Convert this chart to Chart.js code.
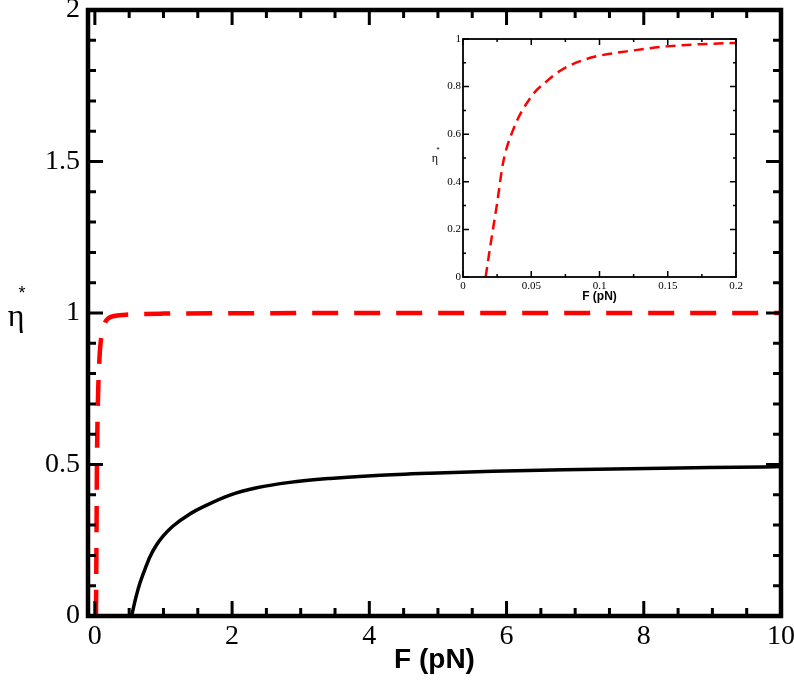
<!DOCTYPE html>
<html>
<head>
<meta charset="utf-8">
<script src="https://cdn.jsdelivr.net/npm/chart.js@4"></script>
<style>
html,body{margin:0;padding:0;background:#fff;}
#wrap{position:relative;width:794px;height:681px;background:#fff;}
#main{position:absolute;left:0;top:0;}
#inset{position:absolute;left:420px;top:25px;}
</style>
</head>
<body>
<div id="wrap">
<canvas id="main" width="794" height="681"></canvas>
<canvas id="inset" width="330" height="285"></canvas>
</div>
<script>
// ---- data ----
const redF   = [0.0166, 0.02, 0.025, 0.0293, 0.0367, 0.05, 0.061, 0.0733, 0.0905, 0.1, 0.12, 0.149, 0.198, 0.3, 0.5, 1, 2, 4, 6, 8, 10];
const redEta = [0, 0.13, 0.31, 0.478, 0.618, 0.758, 0.821, 0.874, 0.916, 0.93, 0.948, 0.969, 0.983, 0.991, 0.995, 0.998, 0.999, 1, 1, 1, 1];
const blackF   = [0.535, 0.6, 0.656, 0.75, 0.8, 0.9, 1.0, 1.14, 1.385, 1.63, 1.97, 2.36, 2.84, 3.43, 4.1, 4.88, 5.8, 6.83, 8.28, 9.74, 10];
const blackEta = [0, 0.063, 0.108, 0.166, 0.194, 0.235, 0.265, 0.297, 0.337, 0.366, 0.399, 0.423, 0.441, 0.454, 0.464, 0.4715, 0.478, 0.483, 0.488, 0.492, 0.493];

const mainXTicks = [0, 2, 4, 6, 8, 10];
const mainYTicks = [0, 0.5, 1, 1.5, 2];
const insetXTicks = [0, 0.05, 0.1, 0.15, 0.2];
const insetYTicks = [0, 0.2, 0.4, 0.6, 0.8, 1];

function toXY(xs, ys){ return xs.map((v,i)=>({x:v, y:ys[i]})); }
function range(a, b, s){ const out=[]; for(let v=a; v<=b+1e-9; v+=s) out.push(+v.toFixed(6)); return out; }
const fmt = v => String(+(+v).toFixed(4));

// frame + inside ticks plugin
const frameTicks = {
  id:'frameTicks',
  afterDatasetsDraw(chart, args, o){
    const {ctx, chartArea:{left,right,top,bottom}, scales:{x,y}} = chart;
    ctx.save();
    ctx.strokeStyle = '#000';
    ctx.lineCap = 'butt';
    const isMajor = (v, majors) => majors.some(m => Math.abs(m - v) < 1e-6);
    ctx.lineWidth = o.tickW;
    ctx.beginPath();
    o.xMinor.forEach(v => {
      const px = x.getPixelForValue(v);
      const len = isMajor(v, o.xMajor) ? o.majorLen : o.minorLen;
      ctx.moveTo(px, bottom); ctx.lineTo(px, bottom - len);
      ctx.moveTo(px, top); ctx.lineTo(px, top + len);
    });
    o.yMinor.forEach(v => {
      const py = y.getPixelForValue(v);
      const len = isMajor(v, o.yMajor) ? o.majorLen : o.minorLen;
      ctx.moveTo(left, py); ctx.lineTo(left + len, py);
      ctx.moveTo(right, py); ctx.lineTo(right - len, py);
    });
    ctx.stroke();
    ctx.lineWidth = o.frameW;
    ctx.strokeRect(left, top, right - left, bottom - top);
    // titles
    ctx.fillStyle = '#000';
    ctx.textAlign = 'center';
    ctx.textBaseline = 'middle';
    ctx.font = o.xTitleFont;
    ctx.fillText('F (pN)', (left + right) / 2, o.xTitleY);
    ctx.font = o.etaFont;
    ctx.fillText('η', o.etaX, o.etaY);
    ctx.font = o.starFont;
    ctx.fillText('*', o.etaX + o.starDX, o.etaY + o.starDY);
    ctx.restore();
  }
};

function fixTicks(list){ return function(scale){ scale.ticks = list.map(v => ({value:v})); }; }
function fitW(w){ return function(s){ s.width = w; s.paddingTop = 0; s.paddingBottom = 0; s.paddingLeft = 0; s.paddingRight = 0; }; }
function fitH(h){ return function(s){ s.height = h; s.paddingTop = 0; s.paddingBottom = 0; s.paddingLeft = 0; s.paddingRight = 0; }; }

new Chart(document.getElementById('main'), {
  type:'line',
  data:{
    datasets:[
      {data: toXY(blackF, blackEta), borderColor:'#000', borderWidth:3.5, pointRadius:0, cubicInterpolationMode:'monotone', fill:false},
      {data: toXY(redF, redEta), borderColor:'#ff0000', borderWidth:4.5, borderDash:[26,16], pointRadius:0, cubicInterpolationMode:'monotone', fill:false}
    ]
  },
  options:{
    responsive:false, animation:false, events:[],
    layout:{autoPadding:false, padding:{left:0, right:13, top:10, bottom:0}},
    plugins:{
      legend:{display:false}, tooltip:{enabled:false},
      frameTicks:{
        xMajor: mainXTicks, yMajor: mainYTicks,
        xMinor: range(0, 10, 0.5), yMinor: range(0, 2, 0.1),
        majorLen: 15, minorLen: 8, tickW: 3, frameW: 4.5,
        xTitleFont: 'bold 28px "Liberation Sans", Arial, sans-serif', xTitleY: 660,
        etaFont: '32px "Liberation Serif", serif', etaX: 16, etaY: 318,
        starFont: '18px "Liberation Sans", sans-serif', starDX: 6, starDY: -24
      }
    },
    scales:{
      x:{type:'linear', min:-0.1, max:10,
         afterBuildTicks: fixTicks(mainXTicks),
         afterFit: fitH(65),
         grid:{display:false, drawTicks:false}, border:{display:false},
         ticks:{color:'#000', font:{family:'"Liberation Serif", serif', size:28}, padding:4, maxRotation:0, autoSkip:false, callback: fmt}},
      y:{type:'linear', min:0, max:2,
         afterBuildTicks: fixTicks(mainYTicks),
         afterFit: fitW(88),
         grid:{display:false, drawTicks:false}, border:{display:false},
         ticks:{color:'#000', font:{family:'"Liberation Serif", serif', size:28}, padding:8, callback: fmt}}
    }
  },
  plugins:[frameTicks]
});

new Chart(document.getElementById('inset'), {
  type:'line',
  data:{
    datasets:[
      {data: toXY(redF, redEta), borderColor:'#ff0000', borderWidth:2.5, borderDash:[10,6], pointRadius:0, cubicInterpolationMode:'monotone', fill:false}
    ]
  },
  options:{
    responsive:false, animation:false, events:[],
    layout:{autoPadding:false, padding:{left:0, right:14, top:14, bottom:0}},
    plugins:{
      legend:{display:false}, tooltip:{enabled:false},
      frameTicks:{
        xMajor: insetXTicks, yMajor: insetYTicks,
        xMinor: range(0, 0.2, 0.025), yMinor: range(0, 1, 0.1),
        majorLen: 6, minorLen: 3, tickW: 1.5, frameW: 1.8,
        xTitleFont: 'bold 12px "Liberation Sans", Arial, sans-serif', xTitleY: 272,
        etaFont: '12px "Liberation Serif", serif', etaX: 15, etaY: 134,
        starFont: '8px "Liberation Sans", sans-serif', starDX: 3, starDY: -9
      }
    },
    scales:{
      x:{type:'linear', min:0, max:0.2,
         afterBuildTicks: fixTicks(insetXTicks),
         afterFit: fitH(33),
         grid:{display:false, drawTicks:false}, border:{display:false},
         ticks:{color:'#000', font:{family:'"Liberation Serif", serif', size:11}, padding:3, maxRotation:0, autoSkip:false, callback: fmt}},
      y:{type:'linear', min:0, max:1,
         afterBuildTicks: fixTicks(insetYTicks),
         afterFit: fitW(43),
         grid:{display:false, drawTicks:false}, border:{display:false},
         ticks:{color:'#000', font:{family:'"Liberation Serif", serif', size:11}, padding:2, callback: fmt}}
    }
  },
  plugins:[frameTicks]
});
</script>
</body>
</html>
